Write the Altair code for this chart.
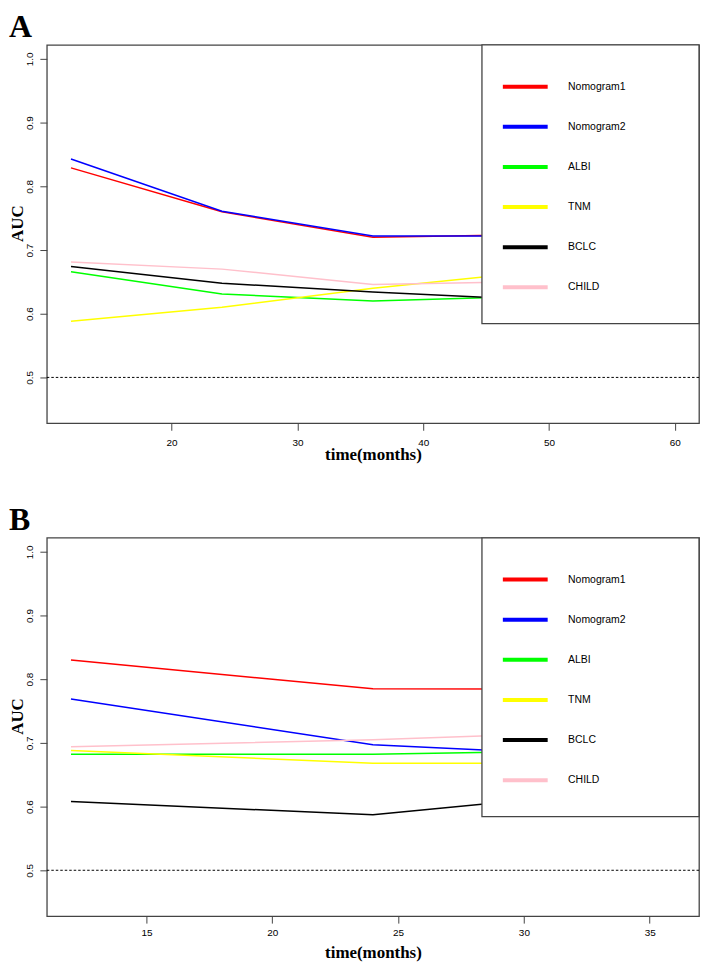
import altair as alt
import pandas as pd

# ---------------- data ----------------
series = ["Nomogram1", "Nomogram2", "ALBI", "TNM", "BCLC", "CHILD"]
colors = ["#ff0000", "#0000ff", "#00ff00", "#ffff00", "#000000", "#ffc0cb"]

# Panel A
times_a = [12, 24, 36, 48]
nomogram1_a = [0.829, 0.760, 0.720, 0.724]
nomogram2_a = [0.843, 0.761, 0.722, 0.722]
albi_a = [0.666, 0.631, 0.620, 0.627]
tnm_a = [0.588, 0.610, 0.640, 0.664]
bclc_a = [0.674, 0.648, 0.634, 0.623]
child_a = [0.681, 0.670, 0.646, 0.650]

# Panel B
times_b = [12, 24, 36]
nomogram1_b = [0.830, 0.785, 0.784]
nomogram2_b = [0.769, 0.697, 0.675]
albi_b = [0.682, 0.682, 0.690]
tnm_b = [0.688, 0.668, 0.668]
bclc_b = [0.608, 0.587, 0.633]
child_b = [0.694, 0.705, 0.721]

xlim_a = (12, 60)
xticks_a = [20, 30, 40, 50, 60]
xlim_b = (12, 36)
xticks_b = [15, 20, 25, 30, 35]
ylim = (0.45, 1.0)
yticks = [0.5, 0.6, 0.7, 0.8, 0.9, 1.0]
ref_auc = [0.5]

# ---------------- layout ----------------
W, H = 655, 380
BOX_W, BOX_H = 218, 280
FRAME = "#444444"
SANS = "Liberation Sans"
SERIF = "Liberation Serif"


def r_range(lim):
    ext = 0.04 * (lim[1] - lim[0])
    return [lim[0] - ext, lim[1] + ext]


def panel(letter, times, vals, xlim, xticks, lab_pad, title_y):
    rows = []
    for s, v in zip(series, vals):
        for t, a in zip(times, v):
            rows.append({"time": t, "auc": a, "model": s})
    df = pd.DataFrame(rows)

    x = alt.X(
        "time:Q",
        scale=alt.Scale(domain=r_range(xlim), nice=False, zero=False),
        axis=alt.Axis(
            values=xticks, format="d", title="time(months)",
            titleFont=SERIF, titleFontSize=17, titleFontWeight="bold",
            titleColor="black", titleX=W / 2, titleY=title_y,
            titleAlign="center", titleBaseline="middle",
            labelFont=SANS, labelFontSize=10, labelColor="black",
            labelPadding=lab_pad, labelFlush=False, tickSize=7,
            tickColor=FRAME, domain=False, grid=False,
        ),
    )
    y = alt.Y(
        "auc:Q",
        scale=alt.Scale(domain=r_range(ylim), nice=False, zero=False),
        axis=alt.Axis(
            values=yticks, format=".1f", title="AUC",
            titleFont=SERIF, titleFontSize=17, titleFontWeight="bold",
            titleColor="black", titleAngle=270, titleX=-29, titleY=H / 2 - 11,
            titleAlign="center", titleBaseline="middle",
            labelAngle=270, labelAlign="center", labelBaseline="bottom",
            labelFont=SANS, labelFontSize=10, labelColor="black",
            labelPadding=5, tickSize=7, tickColor=FRAME,
            domain=False, grid=False,
        ),
    )
    color = alt.Color(
        "model:N",
        scale=alt.Scale(domain=series, range=colors),
        legend=alt.Legend(
            title=None, orient="none",
            legendX=W - BOX_W + 21.5, legendY=20,
            symbolType="M-1.14,0H1.14", symbolSize=1560,
            symbolStrokeWidth=4, labelFont=SANS, labelFontSize=10.5,
            labelColor="black", labelOffset=21, rowPadding=10.3,
            padding=0, zindex=1,
        ),
    )
    lines = alt.Chart(df).mark_line(strokeWidth=1.5).encode(x=x, y=y, color=color)
    rule = alt.Chart(pd.DataFrame({"auc": ref_auc})).mark_rule(
        color="black", strokeWidth=1, strokeDash=[2.5, 2]
    ).encode(y="auc:Q")
    box = alt.Chart(pd.DataFrame({"k": [0]})).mark_rect(
        fill="white", stroke=FRAME, strokeWidth=1.3
    ).encode(
        x=alt.value(W - BOX_W), x2=alt.value(W),
        y=alt.value(0), y2=alt.value(BOX_H),
    )
    return alt.layer(lines, rule, box).properties(
        width=W, height=H,
        title=alt.TitleParams(
            letter, anchor="start", frame="bounds", font=SERIF,
            fontSize=32, fontWeight="bold", color="black", offset=0,
        ),
    )


pa = panel(
    "A", times_a,
    [nomogram1_a, nomogram2_a, albi_a, tnm_a, bclc_a, child_a],
    xlim_a, xticks_a, 7, 31,
)
pb = panel(
    "B", times_b,
    [nomogram1_b, nomogram2_b, albi_b, tnm_b, bclc_b, child_b],
    xlim_b, xticks_b, 4, 37,
)

chart = (
    alt.vconcat(pa, pb, spacing=40)
    .resolve_scale(color="independent", x="independent", y="independent")
    .properties(padding=0, background="white")
    .configure_view(stroke=FRAME, strokeWidth=1.3)
)

chart.save("out.html", embed_options={"renderer": "svg", "actions": False})
